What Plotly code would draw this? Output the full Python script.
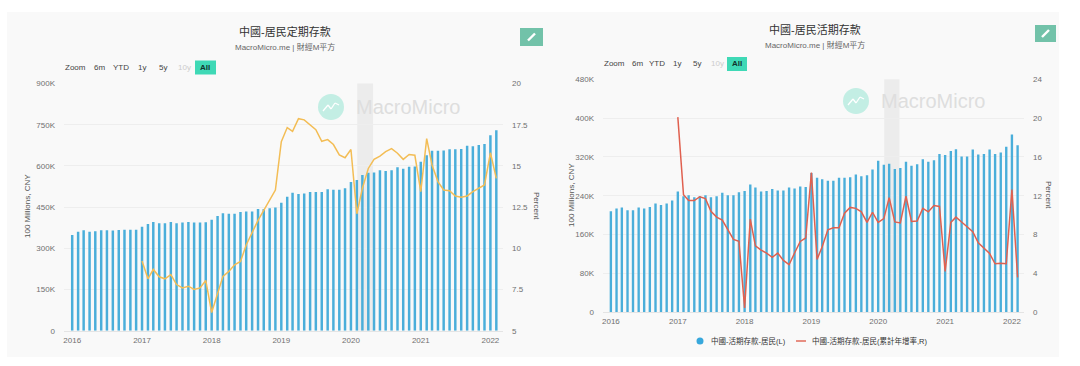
import pandas as pd
import plotly.graph_objects as go

W, H = 1080, 366
FONT = "Liberation Sans, Noto Sans CJK TC, sans-serif"

bar_dates = pd.date_range("2016-01-01", "2022-02-01", freq="MS")
line_dates = pd.date_range("2017-01-01", "2022-02-01", freq="MS")

time_deposits = [
    349, 360, 366, 360, 362, 366, 366, 365, 367, 368, 368, 368,
    379, 389, 396, 391, 391, 396, 391, 394, 396, 394, 394, 395,
    404, 418, 428, 426, 426, 432, 434, 434, 443, 443, 446, 449,
    466, 488, 502, 498, 500, 505, 505, 505, 515, 513, 513, 519,
    542, 549, 567, 575, 576, 584, 582, 584, 595, 590, 597, 598,
    615, 639, 655, 655, 656, 661, 661, 662, 674, 672, 676, 680,
    712, 730,
]
time_growth = [
    9.23, 8.15, 8.72, 8.27, 8.15, 8.4, 7.8, 7.6, 7.7, 7.5, 7.6, 8.05,
    6.1, 7.3, 8.3, 8.6, 9.0, 9.2, 10.2, 10.95, 11.7, 12.3, 12.9, 13.54,
    16.48, 17.33, 17.1, 17.87, 17.8, 17.5, 17.2, 16.5, 16.6, 16.3, 15.67, 15.5,
    16.0, 12.1, 13.65, 14.85, 15.4, 15.6, 15.87, 16.05, 15.77, 15.4, 15.7, 15.65,
    13.44, 16.66, 15.06, 14.05, 13.54, 13.5, 13.18, 13.1, 13.18, 13.44, 13.64, 13.85,
    15.8, 14.25,
]
demand_deposits = [
    208, 214, 216, 210, 210, 216, 214, 217, 224, 221, 224, 230,
    249, 239, 241, 237, 239, 241, 237, 239, 246, 241, 241, 247,
    250, 263, 257, 249, 250, 254, 251, 251, 257, 255, 259, 258,
    287, 277, 274, 271, 271, 277, 277, 278, 284, 280, 282, 294,
    312, 304, 306, 295, 297, 310, 302, 305, 315, 310, 313, 326,
    324, 332, 336, 321, 321, 335, 325, 326, 335, 326, 329, 341,
    366, 344,
]
demand_growth = [
    20.1, 12.1, 11.5, 11.5, 11.9, 11.7, 10.4, 9.8, 9.5, 8.5, 7.5, 7.3,
    0.45, 9.6, 6.85, 6.4, 6.1, 5.65, 6.1, 5.35, 4.9, 6.1, 7.3, 7.65,
    14.4, 5.45, 6.75, 8.5, 8.7, 8.7, 10.2, 10.8, 10.7, 10.35, 9.25, 10.3,
    9.25, 9.65, 11.8, 9.3, 9.2, 11.95, 9.35, 9.4, 10.7, 10.35, 11.0, 10.9,
    4.2, 9.25, 9.8, 9.3, 8.8, 8.3, 7.15, 6.65, 6.05, 5.0, 5.05, 5.0,
    12.65, 3.6,
]

left_title = "中國-居民定期存款"
right_title = "中國-居民活期存款"
subtitle = "MacroMicro.me | 財經M平方"
legend_bar = "中國-活期存款-居民(L)"
legend_line = "中國-活期存款-居民(累計年增率,R)"
range_buttons = ["Zoom", "6m", "YTD", "1y", "5y", "10y", "All"]

left_vals = [0, 150, 300, 450, 600, 750, 900]
left_text = ["0", "150K", "300K", "450K", "600K", "750K", "900K"]
left_pct = [5, 7.5, 10, 12.5, 15, 17.5, 20]
left_pct_text = ["5", "7.5", "10", "12.5", "15", "17.5", "20"]
right_vals = [0, 80, 160, 240, 320, 400, 480]
right_text = ["0", "80K", "160K", "240K", "320K", "400K", "480K"]
right_pct = [0, 4, 8, 12, 16, 20, 24]
x_ticks = ["%d-01-01" % y for y in range(2016, 2023)]
x_text = [str(y) for y in range(2016, 2023)]

BAR = "#4aaeda"
GRID = "#eeeeee"
TICK = "#707070"
X_RANGE = ["2015-11-19", "2022-03-08"]
BAR_MS = 1000 * 3600 * 24 * 13


def px(x):
    return x / W


def py(y):
    return 1 - y / H


fig = go.Figure()
fig.add_bar(x=bar_dates, y=time_deposits, marker_color=BAR, marker_line_width=0,
            width=BAR_MS, xaxis="x", yaxis="y", showlegend=False)
fig.add_scatter(x=line_dates, y=time_growth, mode="lines", line=dict(color="#f3bd55", width=1.5),
                xaxis="x", yaxis="y2", showlegend=False)
fig.add_bar(x=bar_dates, y=demand_deposits, marker_color=BAR, marker_line_width=0,
            width=BAR_MS, xaxis="x2", yaxis="y3", showlegend=False)
fig.add_scatter(x=line_dates, y=demand_growth, mode="lines", line=dict(color="#e0604f", width=1.5),
                xaxis="x2", yaxis="y4", showlegend=False)

tickfont = dict(family=FONT, size=8, color=TICK)


def xaxis(dom, anchor, standoff):
    return dict(domain=dom, anchor=anchor, type="date", range=X_RANGE, tickmode="array",
                tickvals=x_ticks, ticktext=x_text, tickfont=tickfont, showgrid=False,
                zeroline=False, showline=True, linecolor="#e4e4e4", linewidth=1,
                ticks="", fixedrange=True, automargin=False, ticklabelstandoff=standoff)


def yaxis(dom, rng, vals, text, anchor, side="left", overlay=None, grid=True):
    d = dict(domain=dom, range=rng, tickmode="array", tickvals=vals, ticktext=text,
             tickfont=tickfont, showgrid=grid, gridcolor=GRID, gridwidth=1, zeroline=False,
             showline=False, side=side, anchor=anchor, ticks="", fixedrange=True, automargin=False,
             ticklabelstandoff=8)
    if overlay:
        d["overlaying"] = overlay
    return d


dom_l = [px(64), px(503)]
dom_r = [px(603), px(1024)]
ydom_l = [py(330.7), py(83.6)]
ydom_r = [py(312.3), py(79.2)]

shapes = [
    dict(type="rect", xref="paper", yref="paper", x0=px(7), x1=px(1059), y0=py(357), y1=py(12),
         fillcolor="#f9f9f9", line_width=0, layer="below"),
    dict(type="rect", xref="x", yref="y domain", x0="2020-02-03", x1="2020-04-26", y0=0, y1=1,
         fillcolor="#ececec", line_width=0, layer="below"),
    dict(type="rect", xref="x2", yref="y3 domain", x0="2020-02-03", x1="2020-04-26", y0=0, y1=1,
         fillcolor="#ececec", line_width=0, layer="below"),
]
ann = []


def text(x, y, s, size=8, color=TICK, angle=0, anchor="center", bold=False):
    ann.append(dict(xref="paper", yref="paper", x=px(x), y=py(y), text="<b>%s</b>" % s if bold else s,
                    showarrow=False, xanchor=anchor, yanchor="middle", textangle=angle,
                    font=dict(family=FONT, size=size, color=color)))


def paper_rect(x0, y0, x1, y1, color):
    shapes.append(dict(type="rect", xref="paper", yref="paper", x0=px(x0), x1=px(x1), y0=py(y1), y1=py(y0),
                       fillcolor=color, line_width=0))


def paper_line(x0, y0, x1, y1, color, width):
    shapes.append(dict(type="line", xref="paper", yref="paper", x0=px(x0), x1=px(x1), y0=py(y0), y1=py(y1),
                       line=dict(color=color, width=width)))


def decorate(cx_title, y_title, y_sub, xs_btn, y_btn, box, pencil, wm, ytitle_pos, pct_pos, title):
    text(cx_title, y_title, title, size=11, color="#333333")
    text(cx_title, y_sub, subtitle, size=8, color="#666666")
    paper_rect(box[0], y_btn - 7, box[1], y_btn + 7, "#3fd9b6")
    for b, x in zip(range_buttons, xs_btn):
        c = "#cccccc" if b == "10y" else ("#12332c" if b == "All" else "#444444")
        text(x, y_btn, b, size=8, color=c, bold=b == "All")
    paper_rect(pencil[0], pencil[1], pencil[2], pencil[3], "#72c2a9")
    cx, cy = (pencil[0] + pencil[2]) / 2, (pencil[1] + pencil[3]) / 2
    paper_line(cx - 3.5, cy + 3.5, cx + 3.5, cy - 3.5, "#ffffff", 2.4)
    c_x, c_y = wm
    shapes.append(dict(type="circle", xref="paper", yref="paper", x0=px(c_x - 13), x1=px(c_x + 13),
                       y0=py(c_y + 13), y1=py(c_y - 13), fillcolor="#c3eee4", line_width=0))
    zig = [(-8, 4), (-3, -2), (0, 2), (4, -4), (8, -2)]
    for a, b in zip(zig[:-1], zig[1:]):
        paper_line(c_x + a[0], c_y + a[1], c_x + b[0], c_y + b[1], "#ffffff", 1.3)
    text(c_x + 23, c_y, "MacroMicro", size=20, color="#dedede", anchor="left")
    text(ytitle_pos[0], ytitle_pos[1], "100 Millions, CNY", size=8, color="#555555", angle=-90)
    text(pct_pos[0], pct_pos[1], "Percent", size=8, color="#555555", angle=90)


decorate(285, 32, 47, [75, 99, 121, 142, 163, 184, 205], 67.5, (195, 216), (520, 28, 543, 46),
         (331, 107), (28, 206), (536, 206), left_title)
decorate(815, 30, 45, [614, 637, 657, 677, 697, 717, 737], 64, (727, 747), (1035, 25, 1056, 42),
         (856, 101), (571, 195), (1049, 195), right_title)

shapes.append(dict(type="circle", xref="paper", yref="paper", x0=px(696.5), x1=px(703.5),
                   y0=py(344.5), y1=py(337.5), fillcolor="#38a8dc", line_width=0))
text(709, 341, legend_bar, size=7.5, color="#333333", anchor="left")
paper_line(796, 341, 806, 341, "#e0604f", 1.4)
text(810, 341, legend_line, size=7.5, color="#333333", anchor="left")

fig.update_layout(
    width=W, height=H, margin=dict(l=0, r=0, t=0, b=0, pad=0, autoexpand=False), autosize=False,
    paper_bgcolor="#ffffff", plot_bgcolor="rgba(0,0,0,0)", barmode="overlay",
    font=dict(family=FONT), shapes=shapes, annotations=ann, hovermode=False,
    xaxis=xaxis(dom_l, "y", 2),
    yaxis=yaxis(ydom_l, [0, 900], left_vals, left_text, "x"),
    yaxis2=yaxis(ydom_l, [5, 20], left_pct, left_pct_text, "x", side="right", overlay="y", grid=False),
    xaxis2=xaxis(dom_r, "y3", 1),
    yaxis3=yaxis(ydom_r, [0, 480], right_vals, right_text, "x2"),
    yaxis4=yaxis(ydom_r, [0, 24], right_pct, [str(v) for v in right_pct], "x2", side="right", overlay="y3", grid=False),
)

fig.write_html("out.html", config=dict(displayModeBar=False),
               post_script="document.body.style.margin='0';document.body.style.overflow='hidden';")
